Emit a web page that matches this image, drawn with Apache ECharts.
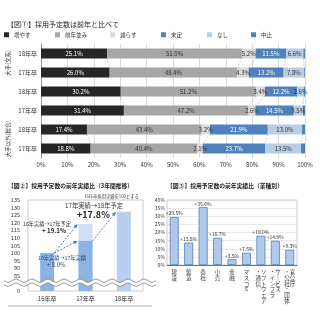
<!DOCTYPE html>
<html><head><meta charset="utf-8">
<script src="https://cdn.jsdelivr.net/npm/echarts@6/dist/echarts.min.js"></script>
<style>html,body{margin:0;padding:0;background:#fff}#c{width:320px;height:320px}</style>
</head><body><div id="c"></div>
<script>
const FONT = '"Noto Sans CJK JP", "Noto Sans CJK SC", sans-serif';

// ---- Figure 1 data ----
const rowLabels = ['18年卒', '17年卒', '18年卒', '17年卒', '18年卒', '17年卒'];
const groupLabels = ['大手(文系)', '大手(理系)', '大手以外(総合)'];
const answerNames = ['増やす', '前年並み', '減らす', '未定', 'なし', '中止'];
const increase  = [25.1, 26.0, 30.2, 31.4, 17.4, 18.8];
const same      = [51.0, 48.4, 51.2, 47.2, 43.4, 40.4];
const decrease  = [5.2, 4.3, 3.4, 2.6, 3.2, 2.1];
const undecided = [11.5, 13.2, 12.2, 14.5, 21.9, 23.7];
const none      = [6.6, 7.8, 2.6, 3.5, 13.0, 13.5];
const cancel    = [0.6, 0.3, 0.4, 0.8, 1.1, 1.5];
const pctTicks  = [0, 10, 20, 30, 40, 50, 60, 70, 80, 90, 100];

// ---- Figure 2 data ----
const yearCats  = ['16年卒', '17年卒', '18年卒'];
const actualIdx = [100, 108.0, null];
const planIdx   = [null, 119.1, 127.2];

// ---- Figure 3 data ----
const industries = ['建設', '製造', '商社', '小売', '金融', 'マスコミ', 'ソフトウェア・通信', 'サービス・インフラ', '官公庁・公社・団体'];
const industryRatio = [29.5, 13.8, 35.6, 16.7, 3.5, 7.5, 18.0, 14.9, 9.3];

const chart = echarts.init(document.getElementById('c'), null, {renderer: 'canvas'});

const topData = [increase, same, decrease, undecided, none, cancel];
const topColors = ['#262626', '#a6a6a6', '#d9d9d9', '#4f81bd', '#b9cde5', '#4f81bd'];
const topLabelColors = ['#ffffff', '#333333', '#333333', '#ffffff', '#333333', '#333333'];

const series = [];
answerNames.forEach((n, i) => {
  series.push({
    name: n, type: 'bar', stack: 'all', xAxisIndex: 0, yAxisIndex: 0, barWidth: 10,
    data: topData[i], itemStyle: {color: topColors[i]},
    label: {show: i < 5, position: 'inside', formatter: p => p.value.toFixed(1) + '%',
            fontSize: 6, color: topLabelColors[i], fontFamily: FONT},
    emphasis: {disabled: true}, animation: false
  });
});

// dashed connectors between paired rows
const connData = [];
for (let g = 0; g < 3; g++) {
  const u = 2 * g, l = 2 * g + 1;
  let cu = 0, cl = 0;
  for (let k = 0; k < 5; k++) {
    cu += topData[k][u]; cl += topData[k][l];
    connData.push([cu, u, cl, l]);
  }
}
series.push({
  type: 'custom', xAxisIndex: 0, yAxisIndex: 0, silent: true, animation: false,
  data: connData, encode: {x: [0, 2], y: [1, 3]}, z: 1,
  renderItem: (params, api) => {
    const a = api.coord([api.value(0), api.value(1)]);
    const b = api.coord([api.value(2), api.value(3)]);
    return {type: 'line', shape: {x1: a[0], y1: a[1] + 5, x2: b[0], y2: b[1] - 5},
            style: {stroke: '#a0a0a0', lineWidth: 0.6, lineDash: [1.5, 1.5]}};
  }
});

// Figure 2 bars
const dotted = {color: '#c5d9f1', decal: {symbol: 'circle', symbolSize: 0.6, dashArrayX: [2, 0], dashArrayY: [2, 0], color: '#eef4fb'}};
series.push({
  name: 'plan', type: 'bar', xAxisIndex: 1, yAxisIndex: 2, barWidth: 14, animation: false,
  data: planIdx.map((v, i) => v == null ? null : {value: v, itemStyle: i === 1 ? dotted : {color: '#b8cfee'}}),
  emphasis: {disabled: true}
});
series.push({
  name: 'actual', type: 'bar', xAxisIndex: 1, yAxisIndex: 2, barWidth: 14, barGap: '-100%', animation: false,
  data: actualIdx, itemStyle: {color: '#8db3e2'}, emphasis: {disabled: true}
});
const arrows = [[0, actualIdx[0], 1, planIdx[1]], [0, actualIdx[0], 1, actualIdx[1]], [1, actualIdx[1], 2, planIdx[2]]];
series.push({
  type: 'custom', xAxisIndex: 1, yAxisIndex: 2, silent: true, animation: false, z: 5,
  data: arrows, encode: {x: [0, 2], y: [1, 3]},
  renderItem: (params, api) => {
    const a = api.coord([api.value(0), api.value(1)]);
    const b = api.coord([api.value(2), api.value(3)]);
    const x1 = a[0] + 7, y1 = a[1], x2 = b[0] - 8, y2 = b[1];
    const ang = Math.atan2(y2 - y1, x2 - x1), s = 4.5;
    const p1 = [x2 - s * Math.cos(ang - 0.45), y2 - s * Math.sin(ang - 0.45)];
    const p2 = [x2 - s * Math.cos(ang + 0.45), y2 - s * Math.sin(ang + 0.45)];
    return {type: 'group', children: [
      {type: 'line', shape: {x1, y1, x2: x2 - 2 * Math.cos(ang), y2: y2 - 2 * Math.sin(ang)},
       style: {stroke: '#4a7ebb', lineWidth: 1, lineDash: [2, 1.5]}},
      {type: 'polygon', shape: {points: [[x2, y2], p1, p2]}, style: {fill: '#4a7ebb'}}
    ]};
  }
});

// Figure 3 bars
series.push({
  name: 'ratio', type: 'bar', xAxisIndex: 2, yAxisIndex: 3, barWidth: 9, animation: false,
  data: industryRatio,
  itemStyle: {color: '#b0c9ea', borderColor: '#4f81bd', borderWidth: 0.8},
  label: {show: true, position: 'top', distance: 1, fontSize: 5, color: '#333', fontFamily: FONT,
          formatter: p => '+' + p.value.toFixed(1) + '%'},
  emphasis: {disabled: true}
});

const vmap = {'(': '︵', ')': '︶', 'ー': '｜'};
function tate(s) {
  const idx = s.indexOf('・');
  const conv = t => t.split('').map(c => vmap[c] || c);
  if (s.length <= 5 || idx < 0) return conv(s).join('\n');
  const right = conv(s.slice(0, idx)), left = conv(s.slice(idx));
  const n = Math.max(right.length, left.length);
  const rows = [];
  for (let i = 0; i < n; i++) rows.push((left[i] || '　') + (right[i] || '　'));
  return rows.join('\n');
}

const legendLefts = [4, 55, 110, 161, 207, 251];
const legends = answerNames.map((n, i) => ({
  data: [n], left: legendLefts[i], top: 32, itemWidth: 5, itemHeight: 5, icon: 'rect',
  textStyle: {fontSize: 5.5, color: '#333', fontFamily: FONT}, selectedMode: false, padding: 0
}));

const option = {
  animation: false,
  textStyle: {fontFamily: FONT},
  title: [
    {text: '【図①】採用予定数は前年と比べて', left: 2, top: 16, textStyle: {fontSize: 7, fontWeight: 'normal', color: '#222', fontFamily: FONT}},
    {text: '【図②】採用予定数の前年実績比（3年間推移）', left: 3, top: 178, textStyle: {fontSize: 5.8, fontWeight: 'bold', color: '#222', fontFamily: FONT}},
    {text: '【図③】採用予定数の前年実績比（業種別）', left: 162, top: 178, textStyle: {fontSize: 5.8, fontWeight: 'bold', color: '#222', fontFamily: FONT}}
  ],
  legend: legends,
  grid: [
    {left: 41, right: 15, top: 44, height: 114},
    {left: 28, right: 177, top: 200, height: 91, show: true, borderColor: '#bfbfbf', borderWidth: 0.8},
    {left: 167, right: 23, top: 200, height: 65, show: true, borderColor: '#bfbfbf', borderWidth: 0.8}
  ],
  xAxis: [
    {gridIndex: 0, type: 'value', min: pctTicks[0], max: pctTicks[pctTicks.length - 1], interval: 10,
     axisLabel: {formatter: '{value}%', fontSize: 6, color: '#333', margin: 4},
     splitLine: {lineStyle: {color: '#d0d0d0', width: 0.8}}, axisLine: {show: false}, axisTick: {show: false}},
    {gridIndex: 1, type: 'category', data: yearCats,
     axisLabel: {fontSize: 6, color: '#333', margin: 5}, axisLine: {show: false}, axisTick: {show: false}},
    {gridIndex: 2, type: 'category', data: industries,
     axisLabel: {interval: 0, fontSize: 5.5, lineHeight: 5.8, color: '#333', margin: 4, formatter: tate, verticalAlign: 'top'},
     axisLine: {lineStyle: {color: '#595959', width: 0.8}}, axisTick: {show: false}}
  ],
  yAxis: [
    {gridIndex: 0, type: 'category', data: rowLabels, inverse: true, position: 'left',
     axisLabel: {fontSize: 6, color: '#333', margin: 4},
     axisLine: {lineStyle: {color: '#7f7f7f', width: 0.8}},
     axisTick: {length: 20, lineStyle: {color: '#7f7f7f', width: 0.6}}},
    {gridIndex: 0, type: 'category', data: groupLabels, inverse: true, position: 'left',
     axisLabel: {fontSize: 5.5, color: '#333', margin: 30, rotate: 90},
     axisLine: {show: false},
     axisTick: {length: 40, lineStyle: {color: '#7f7f7f', width: 0.6}}},
    {gridIndex: 1, type: 'value', min: 75, max: 135, interval: 5,
     axisLabel: {fontSize: 5.5, color: '#333', margin: 8, formatter: v => v === 75 ? '0' : (v === 80 ? '' : String(v))},
     axisLine: {show: false}, axisTick: {show: false}, splitLine: {show: false}},
    {gridIndex: 2, type: 'value', min: 0, max: 40, interval: 5,
     axisLabel: {fontSize: 5, color: '#333', margin: 2, formatter: '{value}%'},
     axisLine: {show: false}, axisTick: {show: false}, splitLine: {lineStyle: {color: '#d9d9d9', width: 0.6}}}
  ],
  series: series
};
chart.setOption(option);

// annotations + axis break wave for figure 2
const yBreak = chart.convertToPixel({gridIndex: 1}, [0, 80.5])[1];
function wave(y0) {
  const pts = [];
  for (let x = 4; x <= 156; x += 1) pts.push([x, y0 + 1.6 * Math.sin((x - 4) / 16 * 2 * Math.PI)]);
  return pts;
}
const w1 = wave(yBreak - 2), w2 = wave(yBreak + 2);
chart.setOption({
  graphic: [
    {type: 'polygon', shape: {points: w1.concat(w2.slice().reverse())}, style: {fill: '#ffffff'}, z: 10},
    {type: 'polyline', shape: {points: w1}, style: {stroke: '#7f7f7f', lineWidth: 0.8, fill: null}, z: 11},
    {type: 'polyline', shape: {points: w2}, style: {stroke: '#7f7f7f', lineWidth: 0.8, fill: null}, z: 11},
    {type: 'line', shape: {x1: 8, y1: 306, x2: 152, y2: 306}, style: {stroke: '#7f7f7f', lineWidth: 0.6}, z: 11},
    {type: 'text', left: 84, top: 194, style: {text: '16年卒採用実績を100とする', fontSize: 4.3, fill: '#444', fontFamily: FONT}, z: 12},
    {type: 'text', left: 65, top: 202, style: {text: '17年実績→18年予定', fontSize: 6.3, fill: '#333', fontFamily: FONT}, z: 12},
    {type: 'text', left: 77, top: 210, style: {text: '+17.8%', fontSize: 9, fontWeight: 'bold', fill: '#222', fontFamily: FONT}, z: 12},
    {type: 'text', left: 23, top: 221, style: {text: '16年実績→17年予定', fontSize: 5.2, fill: '#333', fontFamily: FONT}, z: 12},
    {type: 'text', left: 42, top: 228, style: {text: '+ 19.1%', fontSize: 6.2, fontWeight: 'bold', fill: '#222', fontFamily: FONT}, z: 12},
    {type: 'text', left: 38, top: 255, style: {text: '16年実績→17年実績', fontSize: 5.2, fill: '#1f497d', fontFamily: FONT}, z: 12},
    {type: 'text', left: 47, top: 262, style: {text: '+ 8.0%', fontSize: 6, fill: '#1f497d', fontFamily: FONT}, z: 12}
  ]
});
</script>
</body></html>
